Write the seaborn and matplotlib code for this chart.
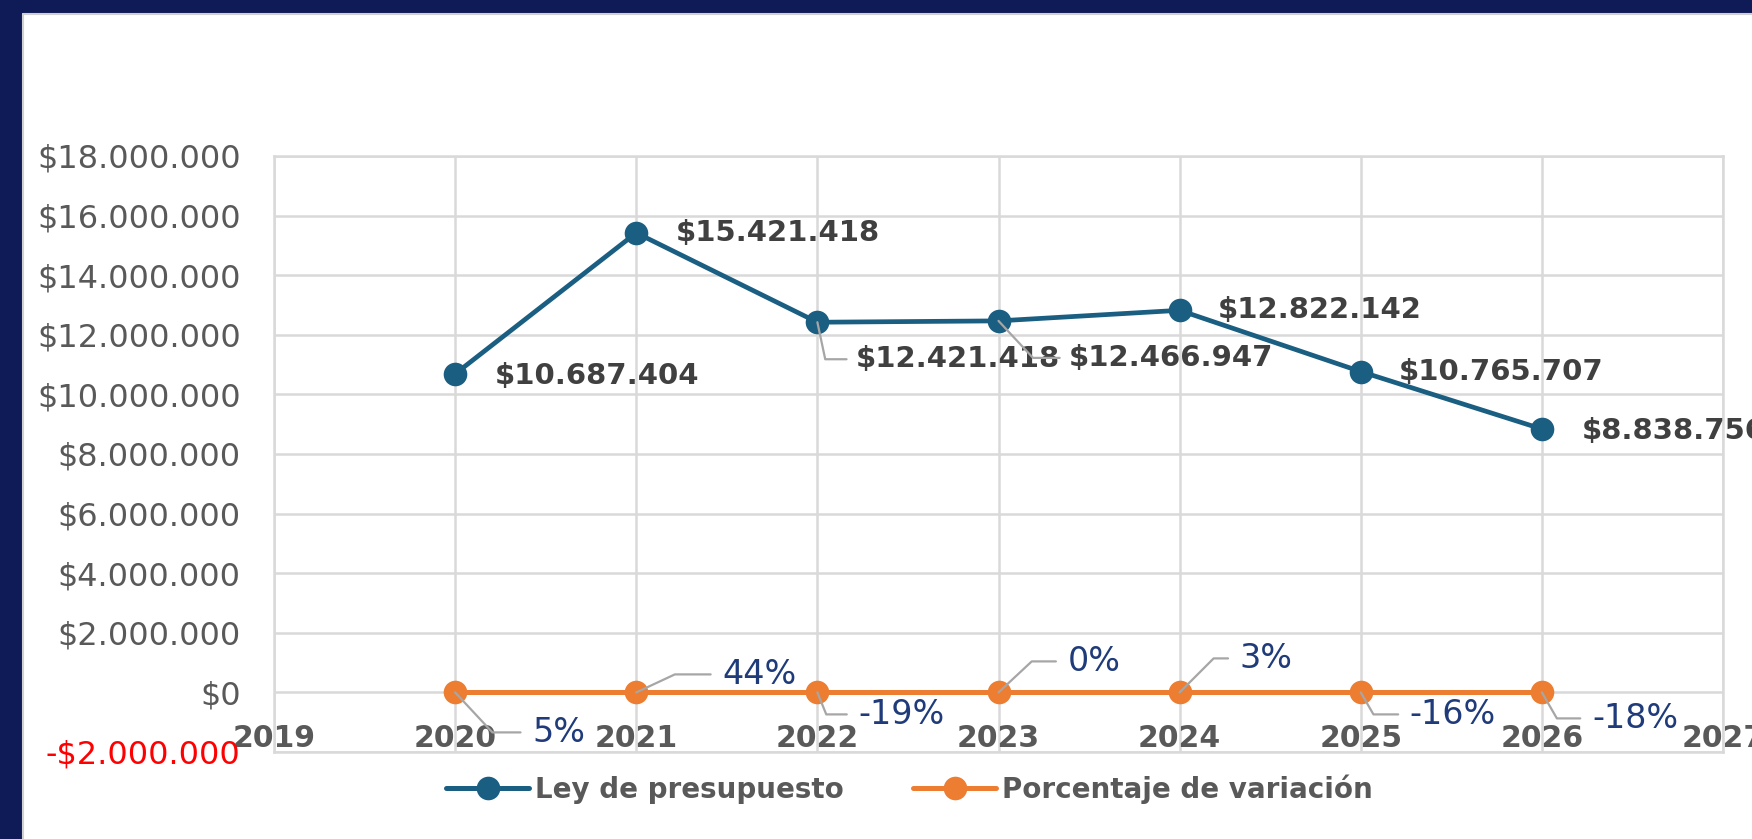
import matplotlib
matplotlib.use("Agg")
import matplotlib.pyplot as plt
import seaborn as sns
import pandas as pd
from matplotlib.patches import Rectangle
from matplotlib.lines import Line2D

# ---------------- data ----------------
years = [2020, 2021, 2022, 2023, 2024, 2025, 2026]
presupuesto = [10687404, 15421418, 12421418, 12466947, 12822142, 10765707, 8838756]
variacion = [0.05, 0.44, -0.19, 0.00, 0.03, -0.16, -0.18]
variacion_labels = ["5%", "44%", "-19%", "0%", "3%", "-16%", "-18%"]
series_names = ["Ley de presupuesto", "Porcentaje de variación"]
x_ticks = [2019, 2020, 2021, 2022, 2023, 2024, 2025, 2026, 2027]
y_ticks = [-2000000, 0, 2000000, 4000000, 6000000, 8000000, 10000000,
           12000000, 14000000, 16000000, 18000000]

# ---------------- style ----------------
BLUE = "#1A5E82"
ORANGE = "#ED7D31"
NAVY = "#0F1B57"
GRID = "#D9D9D9"
TXT = "#595959"
LBL = "#404040"
PCT = "#1F3B7A"

def money(v):
    s = f"{abs(v):,.0f}".replace(",", ".")
    return ("-$" if v < 0 else "$") + s

sns.set_style("white")
plt.rcParams["font.family"] = ["DejaVu Sans"]

W, H = 1752, 839
fig = plt.figure(figsize=(W / 100, H / 100), dpi=100)
fig.patch.set_facecolor("white")
fig.patches.append(Rectangle((0, 0), 22 / W, 1, transform=fig.transFigure,
                             color=NAVY, zorder=0))
fig.patches.append(Rectangle((0, 1 - 13 / H), 1, 13 / H, transform=fig.transFigure,
                             color=NAVY, zorder=0))
fig.add_artist(Line2D([23 / W, 23 / W], [0, 1 - 14 / H], transform=fig.transFigure,
                      color="#D0D0D0", lw=1.5))
fig.add_artist(Line2D([23 / W, 1], [1 - 14 / H, 1 - 14 / H], transform=fig.transFigure,
                      color="#D0D0D0", lw=1.5))

ax = fig.add_axes([274 / W, 1 - 752 / H, (1723 - 274) / W, (752 - 156) / H])

df1 = pd.DataFrame({"year": years, "value": presupuesto})
df2 = pd.DataFrame({"year": years, "value": variacion})

sns.lineplot(data=df1, x="year", y="value", ax=ax, color=BLUE, linewidth=3.4,
             marker="o", markersize=17, markeredgewidth=0, zorder=4)
sns.lineplot(data=df2, x="year", y="value", ax=ax, color=ORANGE, linewidth=3.6,
             marker="o", markersize=17, markeredgewidth=0, zorder=4)

ax.set_xlim(2019, 2027)
ax.set_ylim(-2000000, 18000000)
ax.set_xticks(x_ticks, labels=[str(x) for x in x_ticks])
ax.set_yticks(y_ticks, labels=[money(v) for v in y_ticks])
for lbl, v in zip(ax.get_yticklabels(), y_ticks):
    lbl.set_color("red" if v < 0 else TXT)
for lbl in ax.get_xticklabels():
    lbl.set_color(TXT)
    lbl.set_fontweight("bold")
ax.tick_params(axis="y", labelsize=23, length=0, pad=24)
ax.tick_params(axis="x", labelsize=21.5, length=0, pad=-20)
ax.set_xlabel("")
ax.set_ylabel("")
ax.grid(True, color=GRID, linewidth=1.8)
for sp in ax.spines.values():
    sp.set_color(GRID)
    sp.set_linewidth(1.8)
ax.set_axisbelow(True)

# data labels for budget
pres_off = [(40, -2), (39, 0), (38, -37), (70, -37), (38, 0), (38, 0), (40, -2)]
pres_lead = [None, None, -78, -47, None, None, None]
for x, y, (dx, dy), ang in zip(years, presupuesto, pres_off, pres_lead):
    kw = {}
    if ang is not None:
        kw["arrowprops"] = dict(arrowstyle="-", color="#A6A6A6", lw=1.6,
                                shrinkA=4, shrinkB=0, relpos=(0, 0.5),
                                connectionstyle=f"angle,angleA=0,angleB={ang},rad=0")
    ax.annotate(money(y), xy=(x, y), xytext=(dx, dy), textcoords="offset pixels",
                ha="left", va="center", fontsize=21, fontweight="bold",
                color=LBL, zorder=6, annotation_clip=False, **kw)

# percentage labels
pct_off = [(77, -40), (86, 18), (41, -22), (69, 31), (60, 34), (49, -22), (50, -26)]
pct_ang = [-47, 25, -68, 43, 45, -60, -60]
for x, y, t, (dx, dy), ang in zip(years, variacion, variacion_labels, pct_off, pct_ang):
    ax.annotate(t, xy=(x, y), xytext=(dx, dy), textcoords="offset pixels",
                ha="left", va="center", fontsize=24, color=PCT, zorder=6,
                annotation_clip=False,
                arrowprops=dict(arrowstyle="-", color="#A6A6A6", lw=1.6,
                                shrinkA=6, shrinkB=0, relpos=(0, 0.5),
                                connectionstyle=f"angle,angleA=0,angleB={ang},rad=0"))

handles = [Line2D([], [], color=BLUE, lw=3.6, marker="o", markersize=17, markeredgewidth=0),
           Line2D([], [], color=ORANGE, lw=3.6, marker="o", markersize=17, markeredgewidth=0)]
leg = fig.legend(handles, series_names, loc="center", bbox_to_anchor=(0.519, 1 - 789 / H),
                 ncol=2, frameon=False, handlelength=3.0, columnspacing=2.5,
                 handletextpad=0.2, prop={"size": 20, "weight": "bold"})
for t in leg.get_texts():
    t.set_color(TXT)

fig.savefig("out.png", dpi=100, facecolor=fig.get_facecolor())
